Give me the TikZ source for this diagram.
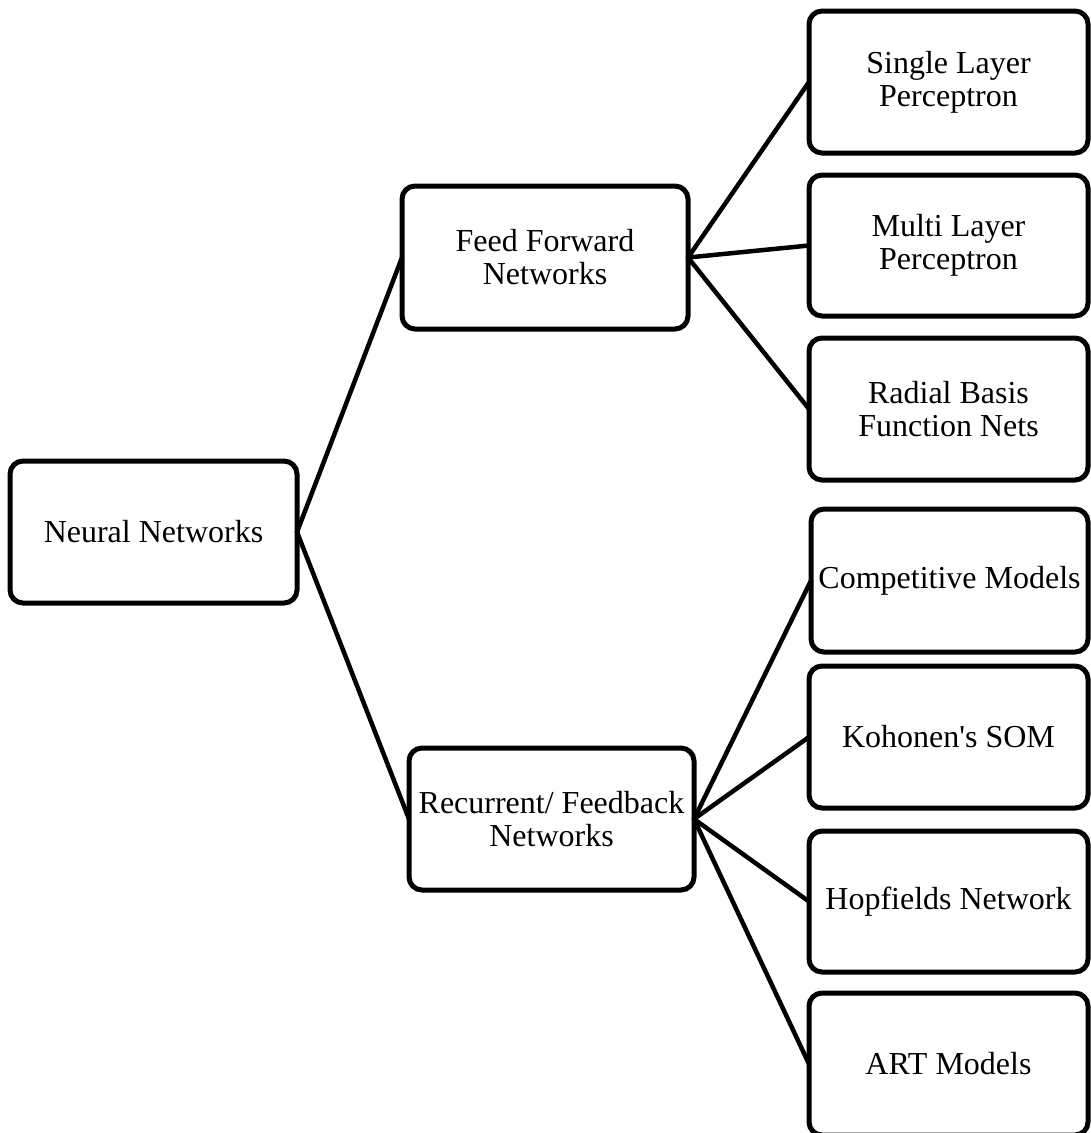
\documentclass[tikz,border=0pt]{standalone}
\usepackage{fontspec}
\setmainfont{Liberation Serif}[Ligatures=TeXOff]
\begin{document}
\begin{tikzpicture}[x=1pt,y=-1pt,
  box/.style={draw=black, line width=5pt, rounded corners=13pt, fill=white,
    rectangle, align=center, inner sep=0pt, outer sep=0pt,
    font=\fontsize{32}{33}\selectfont},
  link/.style={draw=black, line width=4.5pt, line cap=round}]
\useasboundingbox (0,0) rectangle (1091,1133);
% level 0
\node[box, minimum width=287pt, minimum height=142pt] (nn) at (153.5,532) {Neural Networks};
% level 1
\node[box, minimum width=286pt, minimum height=143pt] (ff) at (545,257.5) {Feed Forward\\Networks};
\node[box, minimum width=285pt, minimum height=142pt] (rf) at (551.5,819) {Recurrent/ Feedback\\Networks};
% level 2
\node[box, minimum width=279pt, minimum height=142pt] (slp) at (948.5,82) {Single Layer\\Perceptron};
\node[box, minimum width=279pt, minimum height=141pt] (mlp) at (948.5,245.5) {Multi Layer\\Perceptron};
\node[box, minimum width=279pt, minimum height=142pt] (rbf) at (948.5,409) {Radial Basis\\Function Nets};
\node[box, minimum width=277pt, minimum height=143pt] (cm) at (949.5,580.5) {Competitive Models};
\node[box, minimum width=279pt, minimum height=142pt] (ks) at (948.5,737) {Kohonen's SOM};
\node[box, minimum width=279pt, minimum height=141pt] (hn) at (948.5,901.5) {Hopfields Network};
\node[box, minimum width=279pt, minimum height=142pt] (art) at (948.5,1064) {ART Models};
% connectors
\draw[link] (nn.east) -- (ff.west);
\draw[link] (nn.east) -- (rf.west);
\draw[link] (ff.east) -- (slp.west);
\draw[link] (ff.east) -- (mlp.west);
\draw[link] (ff.east) -- (rbf.west);
\draw[link] (rf.east) -- (cm.west);
\draw[link] (rf.east) -- (ks.west);
\draw[link] (rf.east) -- (hn.west);
\draw[link] (rf.east) -- (art.west);
\end{tikzpicture}
\end{document}
